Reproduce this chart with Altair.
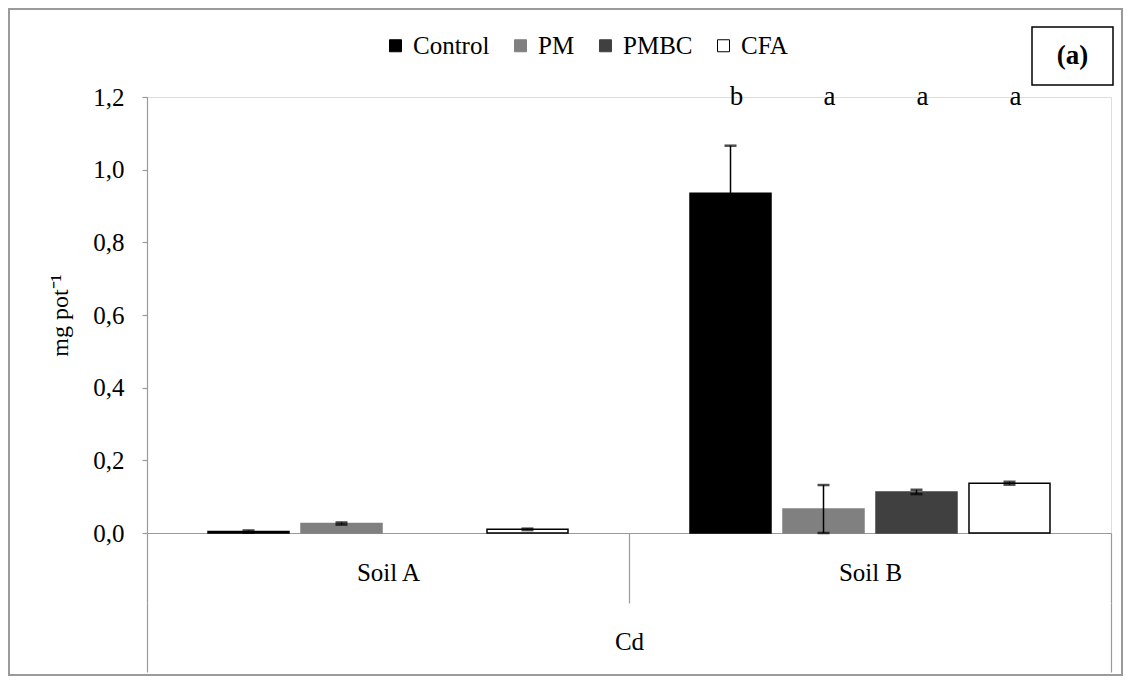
import altair as alt
import pandas as pd

FONT = "Liberation Serif"
GRAY = "#9a9a9a"

soils = ["Soil A", "Soil B"]
treatments = ["Control", "PM", "PMBC", "CFA"]
soil_a_mean = [0.004, 0.026, None, 0.010]
soil_a_err = [0.003, 0.003, None, 0.002]
soil_b_mean = [0.935, 0.066, 0.113, 0.137]
soil_b_err = [0.131, 0.066, 0.006, 0.004]
soil_b_letters = ["b", "a", "a", "a"]
element = ["Cd"]
y_ticks = [0.0, 0.2, 0.4, 0.6, 0.8, 1.0, 1.2]
fills = ["#000000", "#808080", "#404040", "#ffffff"]
strokes = ["#000000", "#808080", "#404040", "#000000"]

rows = []
for s, means, errs in [("Soil A", soil_a_mean, soil_a_err), ("Soil B", soil_b_mean, soil_b_err)]:
    for t, m, e in zip(treatments, means, errs):
        rows.append(dict(soil=s, treatment=t, mean=m,
                         lo=None if m is None else max(m - e, 0.0),
                         hi=None if m is None else m + e))
df = pd.DataFrame(rows)
letters_df = pd.DataFrame(dict(soil=["Soil B"] * 4, treatment=treatments,
                               letter=soil_b_letters, ly=[1.2] * 4))

x_enc = alt.X("soil:N", scale=alt.Scale(domain=soils, paddingInner=0, paddingOuter=0),
              axis=alt.Axis(title=None, orient="bottom", tickBand="extent", tickSize=70,
                            tickColor=GRAY, domainColor=GRAY, tickWidth=1.2, domainWidth=1.2,
                            labelAngle=0, labelFont=FONT, labelFontSize=25, labelFontWeight="normal",
                            labelColor="black", labelBaseline="middle", labelPadding=-31))
xo_enc = alt.XOffset("treatment:N", scale=alt.Scale(domain=treatments, paddingInner=0.129, paddingOuter=0.656))

y_axis = alt.Axis(title="mg pot⁻¹", values=y_ticks, grid=False,
                  labelExpr="replace(format(datum.value, '.1f'), '.', ',')",
                  domainColor=GRAY, tickColor=GRAY, tickSize=5, domainWidth=1.2, tickWidth=1.2,
                  labelFont=FONT, labelFontSize=25, labelColor="black", labelPadding=18,
                  titleFont=FONT, titleFontSize=24, titleFontWeight="normal", titleColor="black",
                  titleX=-87, titleY=218, titleAlign="center", titleBaseline="middle", titleAngle=270)
y_scale = alt.Scale(domain=[0, 1.2], nice=False, zero=True)


def Y(field):
    return alt.Y(field, type="quantitative", scale=y_scale, axis=y_axis, title="mg pot⁻¹")


legend = alt.Legend(title=None, orient="none", legendX=236, legendY=-64, direction="horizontal",
                    symbolType="square", symbolSize=144, symbolStrokeWidth=1,
                    labelFont=FONT, labelFontSize=25, labelColor="black",
                    columnPadding=18, labelOffset=5)

bars = alt.Chart(df).mark_bar(strokeWidth=1.5).encode(
    x=x_enc, xOffset=xo_enc, y=Y("mean"),
    color=alt.Color("treatment:N", scale=alt.Scale(domain=treatments, range=fills), legend=legend),
    stroke=alt.Stroke("treatment:N", scale=alt.Scale(domain=treatments, range=strokes), legend=legend),
)

err_rule = alt.Chart(df).mark_rule(color="black", strokeWidth=1.5).encode(
    x=x_enc, xOffset=xo_enc, y=Y("lo"), y2="hi:Q")
cap_hi = alt.Chart(df).mark_tick(color="black", size=12, thickness=2.5).encode(
    x=x_enc, xOffset=xo_enc, y=Y("hi"))
cap_lo = alt.Chart(df).mark_tick(color="black", size=12, thickness=2.5).encode(
    x=x_enc, xOffset=xo_enc, y=Y("lo"))

letters = alt.Chart(letters_df).mark_text(font=FONT, fontSize=27, color="black", dx=6, baseline="middle").encode(
    x=x_enc, xOffset=xo_enc, y=Y("ly"), text="letter:N")

cd_layer = alt.Chart(pd.DataFrame({"element": element})).mark_point(opacity=0).encode(
    x=alt.X("element:N", scale=alt.Scale(paddingInner=0, paddingOuter=0),
            axis=alt.Axis(title=None, orient="bottom", offset=70, tickBand="extent", tickSize=69,
                          domain=False, tickColor=GRAY, tickWidth=1.2, labelAngle=0,
                          labelFont=FONT, labelFontSize=25, labelFontWeight="normal", labelColor="black",
                          labelBaseline="middle", labelPadding=-31)))

dummy = pd.DataFrame({"k": [0]})
border = alt.Chart(dummy).mark_rect(fill="transparent", stroke=GRAY, strokeWidth=2).encode(
    x=alt.value(-138), x2=alt.value(975), y=alt.value(-88), y2=alt.value(578))
tag_box = alt.Chart(dummy).mark_rect(fill="white", stroke="black", strokeWidth=1.5).encode(
    x=alt.value(885), x2=alt.value(966), y=alt.value(-70), y2=alt.value(-12))
tag_text = alt.Chart(pd.DataFrame({"tag": ["(a)"]})).mark_text(
    font=FONT, fontSize=27, fontWeight="bold", color="black", baseline="middle").encode(
    x=alt.value(925.5), y=alt.value(-41), text="tag:N")

main = alt.layer(border, bars, err_rule, cap_hi, cap_lo, letters, tag_box, tag_text)

chart = alt.layer(main, cd_layer).resolve_scale(
    x="independent"
).properties(
    width=964, height=436,
    autosize=alt.AutoSizeParams(type="none"),
    padding={"left": 139, "top": 89, "right": 12, "bottom": 143},
).configure_view(stroke="transparent").configure(background="white").configure_legend(
    labelFont=FONT, labelFontSize=25, labelColor="black"
).configure_axis(labelFontWeight="normal")

chart.save("out.html", embed_options={"renderer": "svg", "actions": False})
